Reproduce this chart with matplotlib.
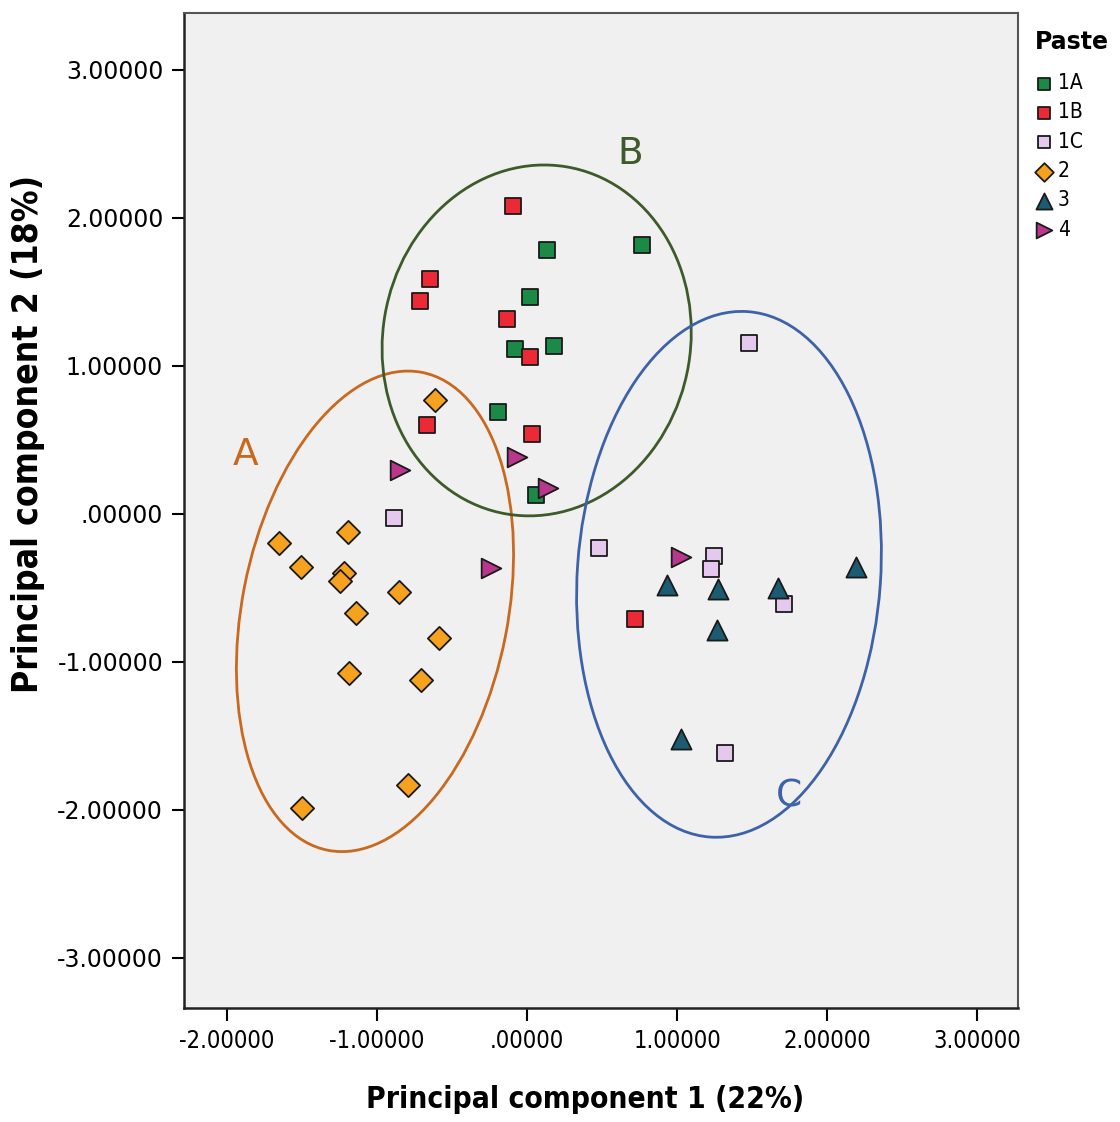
import matplotlib.pyplot as plt
from matplotlib.patches import Ellipse
import numpy as np

# paste groups, PCA scores (PC1, PC2)
paste_1A_x = [0.131, 0.768, 0.020, -0.078, 0.179, -0.191, 0.060]
paste_1A_y = [1.784, 1.818, 1.464, 1.115, 1.137, 0.687, 0.128]
paste_1B_x = [-0.095, -0.649, -0.715, -0.131, 0.020, -0.666, 0.035, 0.722]
paste_1B_y = [2.083, 1.588, 1.441, 1.318, 1.059, 0.597, 0.541, -0.709]
paste_1C_x = [-0.888, 1.481, 0.480, 1.242, 1.226, 1.709, 1.319]
paste_1C_y = [-0.029, 1.153, -0.232, -0.288, -0.374, -0.610, -1.617]
paste_2_x = [-0.611, -1.651, -1.193, -1.507, -1.220, -1.246, -0.850,
             -1.142, -0.589, -1.187, -0.704, -0.792, -1.501]
paste_2_y = [0.766, -0.194, -0.126, -0.360, -0.397, -0.457, -0.525,
             -0.667, -0.840, -1.076, -1.122, -1.831, -1.989]
paste_3_x = [0.932, 1.270, 1.669, 2.189, 1.264, 1.027]
paste_3_y = [-0.480, -0.509, -0.502, -0.356, -0.784, -1.522]
paste_4_x = [-0.843, -0.068, 0.139, -0.241, 1.027]
paste_4_y = [0.297, 0.385, 0.176, -0.367, -0.293]

labels = ['1A', '1B', '1C', '2', '3', '4']
ticks = [-2, -1, 0, 1, 2, 3]
yticks = [3, 2, 1, 0, -1, -2, -3]


def fmt(v):
    s = '%.5f' % v
    if v == 0:
        s = '.00000'
    return s


groups = [
    (paste_1A_x, paste_1A_y, 's', '#1b8a47', 120),
    (paste_1B_x, paste_1B_y, 's', '#ec2a35', 120),
    (paste_1C_x, paste_1C_y, 's', '#e4c8ee', 120),
    (paste_2_x, paste_2_y, 'D', '#f7a21f', 140),
    (paste_3_x, paste_3_y, '^', '#1c5c72', 210),
    (paste_4_x, paste_4_y, '>', '#b8378a', 200),
]

narrow = ['DejaVu Sans Condensed', 'DejaVu Sans']

fig = plt.figure(figsize=(11.2, 11.22), dpi=100)
ax = fig.add_axes([184/1120, 1-1008/1122, 834/1120, 995/1122])
ax.set_facecolor('#f0f0f0')

handles = []
for (xs, ys, m, c, s), lab in zip(groups, labels):
    h = ax.scatter(xs, ys, marker=m, s=s, c=c, edgecolors='#1a1a1a',
                   linewidths=1.3, zorder=3, label=lab)
    handles.append(h)

# cluster ellipses
ax.add_patch(Ellipse((-1.013, -0.659), 1.77, 3.29, angle=-10.9, fill=False,
                     ec='#c8691f', lw=2, zorder=2))
ax.add_patch(Ellipse((0.064, 1.172), 2.05, 2.38, angle=-9.5, fill=False,
                     ec='#3d5b2a', lw=2, zorder=2))
ax.add_patch(Ellipse((1.345, -0.409), 2.02, 3.56, angle=-4, fill=False,
                     ec='#3e62a8', lw=2, zorder=2))
ax.text(-1.873, 0.40, 'A', color='#c8691f', fontsize=27, ha='center', va='center')
ax.text(0.684, 2.43, 'B', color='#3d5b2a', fontsize=27, ha='center', va='center')
ax.text(1.746, -1.91, 'C', color='#3e62a8', fontsize=27, ha='center', va='center')

ax.set_xlim(-2.285, 3.27)
ax.set_ylim(-3.34, 3.385)
ax.set_xticks(ticks)
ax.set_xticklabels([fmt(t) for t in ticks], family=narrow, fontstretch='condensed',
                   fontsize=17)
ax.set_yticks(yticks)
ax.set_yticklabels([fmt(t) for t in yticks], fontsize=17)
ax.tick_params(direction='out', length=9, width=1.5, colors='black', pad=6)

for side in ['top', 'right']:
    ax.spines[side].set_color('#555555')
    ax.spines[side].set_linewidth(1.5)
for side in ['left', 'bottom']:
    ax.spines[side].set_color('#222222')
    ax.spines[side].set_linewidth(1.8)

ax.set_xlabel('Principal component 1 (22%)', fontsize=21.5, fontweight='bold',
              family=narrow, fontstretch='condensed')
ax.set_ylabel('Principal component 2 (18%)', fontsize=25.5, fontweight='bold',
              family=narrow, fontstretch='condensed')
ax.xaxis.set_label_coords(0.481, -0.077)
ax.yaxis.set_label_coords(-0.167, 0.577)

fig.text(1035/1120, 1-42/1122, 'Paste', fontsize=17, fontweight='bold',
         ha='left', va='center')
leg = fig.legend(handles=handles, loc='upper left',
                 bbox_to_anchor=(1034/1120, 1-73/1122), frameon=False,
                 handletextpad=0.15, labelspacing=0.45, handlelength=1.0,
                 borderaxespad=0, borderpad=0,
                 prop={'family': narrow, 'stretch': 'condensed', 'size': 15},
                 markerscale=0.8)

fig.savefig('out.png', dpi=100)
